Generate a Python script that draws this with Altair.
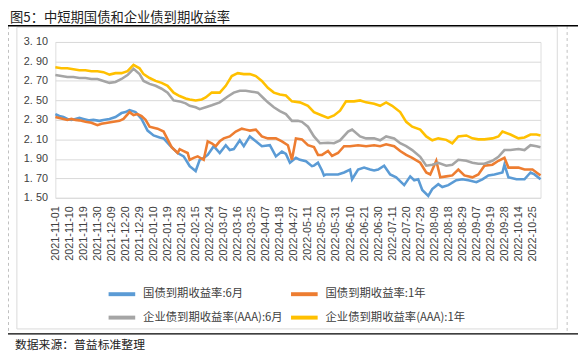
import altair as alt
import pandas as pd

TITLE = "图5：中短期国债和企业债到期收益率"
SOURCE = "数据来源：普益标准整理"
SERIES = ["国债到期收益率:6月", "国债到期收益率:1年",
          "企业债到期收益率(AAA):6月", "企业债到期收益率(AAA):1年"]
COLORS = ["#5B9BD5", "#ED7D31", "#A5A5A5", "#FFC000"]
START, END = "2021-11-01", "2022-10-31"
HOLIDAYS = ["2022-01-03", "2022-01-31", "2022-02-01", "2022-02-02", "2022-02-03",
            "2022-02-04", "2022-04-04", "2022-04-05", "2022-05-02", "2022-05-03",
            "2022-05-04", "2022-06-03", "2022-09-12", "2022-10-03", "2022-10-04",
            "2022-10-05", "2022-10-06", "2022-10-07"]
Y_TICKS = [1.5, 1.7, 1.9, 2.1, 2.3, 2.5, 2.7, 2.9, 3.1]

# trading-day index -> value
GOV6M_IDX = [0, 2, 4, 6, 8, 10, 12, 14, 17, 19, 22, 24, 27, 30, 33, 35, 37, 40, 43, 46,
             49, 52, 54, 57, 59, 61, 64, 66, 67, 70, 72, 74, 76, 79, 82, 85, 87, 89, 92, 94,
             97, 100, 103, 107, 110, 113, 115, 117, 120, 122, 125, 128, 129, 131, 133, 134, 135, 138, 141, 144,
             147, 148, 151, 154, 157, 159, 161, 164, 167, 170, 174, 177, 179, 181, 183, 186, 188, 191, 193, 196,
             200, 203, 206, 210, 213, 216, 219, 223, 224, 226, 230, 234, 237, 239, 242]
GOV6M_VAL = [2.36, 2.34, 2.33, 2.31, 2.30, 2.31, 2.32, 2.31, 2.295, 2.30, 2.29, 2.30, 2.31, 2.33, 2.37, 2.38, 2.40, 2.38, 2.31, 2.19,
             2.14, 2.12, 2.11, 2.04, 2.00, 1.96, 1.925, 1.86, 1.825, 1.775, 1.89, 1.91, 1.94, 2.03, 1.96, 2.04, 1.99, 2.00, 2.09, 2.03,
             2.13, 2.08, 2.03, 2.04, 1.925, 1.975, 1.95, 1.86, 1.91, 1.89, 1.875, 1.825, 1.83, 1.86, 1.78, 1.73, 1.74, 1.74, 1.74, 1.76,
             1.79, 1.69, 1.79, 1.81, 1.79, 1.78, 1.79, 1.83, 1.74, 1.71, 1.63, 1.72, 1.68, 1.69, 1.58, 1.52, 1.59, 1.64, 1.61, 1.63,
             1.68, 1.69, 1.68, 1.66, 1.69, 1.73, 1.74, 1.76, 1.84, 1.71, 1.69, 1.69, 1.76, 1.74, 1.69]

GOV1Y_IDX = [0, 2, 4, 6, 8, 10, 12, 15, 18, 21, 23, 26, 29, 32, 34, 37, 39, 41, 43, 45,
             47, 49, 51, 54, 56, 58, 61, 62, 64, 66, 67, 69, 71, 74, 76, 78, 80, 82, 84, 87,
             90, 93, 95, 97, 100, 103, 106, 110, 113, 116, 118, 120, 123, 126, 129, 131, 133, 136, 138, 141,
             144, 147, 151, 155, 159, 162, 165, 169, 172, 175, 178, 182, 185, 187, 190, 192, 195, 198, 201, 204,
             208, 211, 214, 218, 221, 224, 226, 231, 234, 238, 241, 242]
GOV1Y_VAL = [2.33, 2.32, 2.31, 2.30, 2.31, 2.30, 2.295, 2.28, 2.27, 2.245, 2.26, 2.27, 2.28, 2.29, 2.31, 2.38, 2.35, 2.36, 2.34, 2.30,
             2.23, 2.22, 2.21, 2.18, 2.10, 2.02, 1.96, 2.00, 1.98, 1.96, 1.89, 1.91, 1.925, 1.89, 2.08, 2.06, 2.03, 2.08, 2.11, 2.13,
             2.18, 2.21, 2.20, 2.19, 2.20, 2.13, 2.11, 2.11, 2.08, 2.04, 1.89, 2.11, 2.10, 2.04, 2.02, 1.94, 1.94, 1.98, 1.93, 1.96,
             2.03, 2.03, 2.04, 2.03, 2.04, 2.03, 2.05, 2.03, 1.98, 1.94, 1.91, 1.86, 1.76, 1.74, 1.88, 1.71, 1.72, 1.73, 1.79, 1.73,
             1.71, 1.74, 1.83, 1.84, 1.88, 1.91, 1.81, 1.81, 1.79, 1.79, 1.745, 1.73]

CORP6M_IDX = [0, 3, 6, 9, 12, 15, 18, 21, 24, 27, 30, 33, 36, 39, 42, 44, 47, 50, 53, 56,
              59, 62, 65, 67, 70, 72, 75, 78, 82, 86, 89, 92, 95, 98, 101, 104, 106, 109, 112, 115,
              118, 121, 123, 126, 129, 132, 136, 139, 142, 146, 148, 152, 155, 159, 162, 165, 169, 172, 175, 178,
              182, 185, 188, 191, 195, 198, 201, 205, 208, 211, 214, 218, 221, 224, 227, 231, 234, 237, 240, 242]
CORP6M_VAL = [2.76, 2.75, 2.74, 2.74, 2.73, 2.73, 2.72, 2.72, 2.70, 2.68, 2.69, 2.72, 2.76, 2.825, 2.77, 2.70, 2.67, 2.65, 2.62, 2.58,
              2.50, 2.49, 2.47, 2.445, 2.43, 2.41, 2.43, 2.45, 2.48, 2.54, 2.58, 2.60, 2.60, 2.59, 2.58, 2.52, 2.48, 2.43, 2.39, 2.36,
              2.29, 2.29, 2.28, 2.23, 2.13, 2.06, 2.065, 2.06, 2.09, 2.18, 2.20, 2.13, 2.11, 2.11, 2.09, 2.13, 2.11, 2.06, 2.03, 1.99,
              1.92, 1.83, 1.84, 1.86, 1.83, 1.84, 1.89, 1.88, 1.86, 1.85, 1.85, 1.88, 1.92, 1.99, 1.99, 2.00, 1.99, 2.04, 2.03, 2.02]

CORP1Y_IDX = [0, 3, 6, 9, 12, 15, 18, 21, 24, 27, 30, 33, 36, 39, 42, 44, 47, 50, 53, 56,
              59, 62, 65, 67, 70, 73, 75, 78, 82, 85, 88, 91, 94, 97, 100, 103, 106, 109, 112, 115,
              118, 122, 126, 129, 133, 136, 139, 142, 145, 149, 152, 155, 159, 162, 165, 168, 172, 175, 178, 182,
              185, 188, 191, 195, 198, 201, 205, 208, 211, 214, 218, 221, 223, 227, 231, 234, 237, 240, 242]
CORP1Y_VAL = [2.84, 2.83, 2.83, 2.82, 2.81, 2.81, 2.80, 2.80, 2.79, 2.765, 2.78, 2.78, 2.80, 2.865, 2.83, 2.77, 2.73, 2.70, 2.68, 2.65,
              2.58, 2.545, 2.52, 2.51, 2.50, 2.51, 2.53, 2.58, 2.58, 2.65, 2.75, 2.78, 2.77, 2.77, 2.75, 2.70, 2.63, 2.58, 2.56, 2.55,
              2.49, 2.48, 2.445, 2.38, 2.345, 2.32, 2.345, 2.395, 2.49, 2.49, 2.50, 2.48, 2.465, 2.445, 2.48, 2.445, 2.38, 2.28, 2.23, 2.20,
              2.13, 2.09, 2.11, 2.095, 2.06, 2.13, 2.14, 2.11, 2.10, 2.10, 2.11, 2.13, 2.18, 2.15, 2.11, 2.12, 2.15, 2.15, 2.14]

dates = [d.strftime("%Y-%m-%d") for d in pd.bdate_range(START, END)
         if d.strftime("%Y-%m-%d") not in HOLIDAYS]
label_dates = dates[::7]

rows = []
for name, idx, vals in zip(SERIES,
                           [GOV6M_IDX, GOV1Y_IDX, CORP6M_IDX, CORP1Y_IDX],
                           [GOV6M_VAL, GOV1Y_VAL, CORP6M_VAL, CORP1Y_VAL]):
    for i, v in zip(idx, vals):
        rows.append({"date": dates[i], "series": name, "value": v})
df = pd.DataFrame(rows)

LABEL_COLOR = "#404040"

lines = alt.Chart(df).mark_line(strokeWidth=2.6).encode(
    x=alt.X("date:O",
            scale=alt.Scale(type="point", domain=dates, padding=0),
            axis=alt.Axis(values=label_dates, labelAngle=270, title=None, ticks=False,
                          domain=False, grid=False, labelFontSize=11,
                          labelFont="Liberation Sans", labelColor=LABEL_COLOR,
                          labelPadding=8, labelOverlap=False)),
    y=alt.Y("value:Q",
            scale=alt.Scale(domain=[1.5, 3.1], nice=False, zero=False),
            axis=alt.Axis(values=Y_TICKS, title=None, ticks=False, domain=False,
                          gridColor="#d9d9d9", gridWidth=1, labelFontSize=11,
                          labelFont="Liberation Sans", labelColor=LABEL_COLOR,
                          labelPadding=8,
                          labelExpr="replace(format(datum.value, '.2f'), '.', '. ')")),
    color=alt.Color("series:N",
                    scale=alt.Scale(domain=SERIES, range=COLORS),
                    legend=alt.Legend(orient="none", legendX=52, legendY=240, columns=2,
                                      direction="horizontal",
                                      title=None, symbolType="stroke", symbolStrokeWidth=4,
                                      symbolSize=729, labelFont="Noto Sans CJK SC",
                                      labelFontSize=11.5, labelColor=LABEL_COLOR,
                                      columnPadding=0, rowPadding=-13, labelLimit=0,
                                      padding=0, labelOffset=6)),
)

one = pd.DataFrame({"t": [TITLE], "s": [SOURCE]})
title = alt.Chart(one).mark_text(align="left", baseline="middle",
                                 font="Noto Sans CJK SC", color="#222222").encode(
    text="t:N", x=alt.value(-46), y=alt.value(-24.5), size=alt.value(13.5))
top_rule = alt.Chart(one).mark_rule(color="#000000", strokeWidth=1.5).encode(
    x=alt.value(-51), x2=alt.value(530), y=alt.value(-16.5))
frame = alt.Chart(one).mark_rect(fillOpacity=0, stroke="#d9d9d9", strokeWidth=1).encode(
    x=alt.value(-39), x2=alt.value(509), y=alt.value(-15), y2=alt.value(291))
dash_l = alt.Chart(one).mark_rule(color="#bfbfbf", strokeDash=[3, 3]).encode(
    x=alt.value(-47.5), y=alt.value(-16), y2=alt.value(295))
dash_r = alt.Chart(one).mark_rule(color="#bfbfbf", strokeDash=[3, 3]).encode(
    x=alt.value(519), y=alt.value(-16), y2=alt.value(295))
bottom_rule = alt.Chart(one).mark_rule(color="#000000", strokeWidth=1.5).encode(
    x=alt.value(-48), x2=alt.value(530), y=alt.value(296))
source = alt.Chart(one).mark_text(align="left", baseline="middle",
                                  font="Noto Sans CJK SC", color="#222222").encode(
    text="s:N", x=alt.value(-41), y=alt.value(307), size=alt.value(12))

chart = alt.layer(frame, dash_l, dash_r, title, top_rule, bottom_rule, source, lines).properties(
    width=492, height=158,
    autosize=alt.AutoSizeParams(type="none"),
    padding={"left": 48, "top": 32, "right": 38, "bottom": 160},
).configure_view(strokeWidth=0).configure(background="white")

chart.save("out.html", embed_options={"renderer": "svg", "actions": False})
